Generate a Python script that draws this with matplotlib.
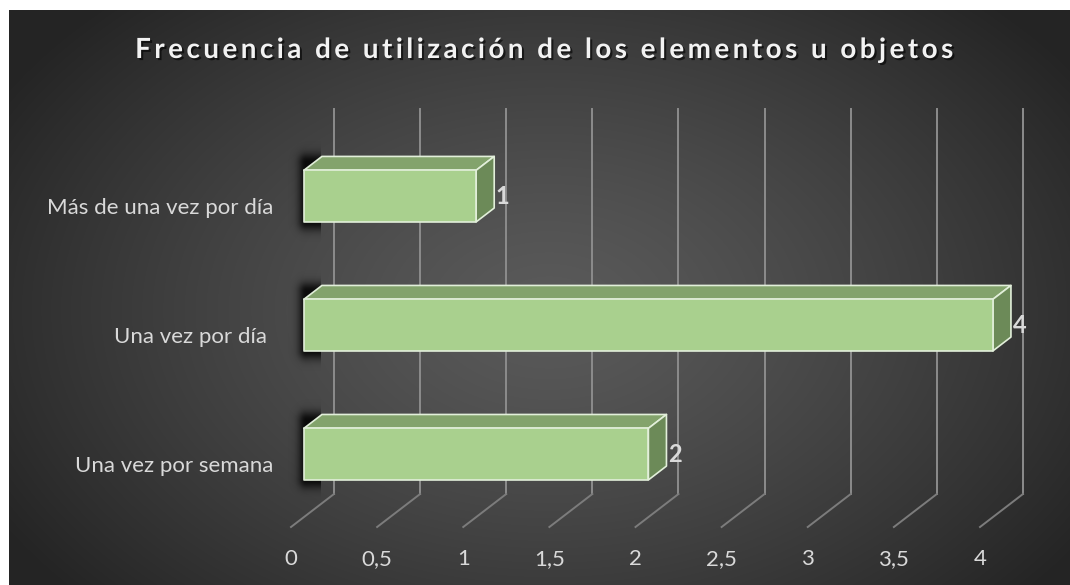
import numpy as np
import matplotlib
matplotlib.use("Agg")
import matplotlib.pyplot as plt
import matplotlib.patheffects as pe
from matplotlib.patches import Polygon

# --- datos ---
categorias = ["Una vez por semana", "Una vez por día ", "Más de una vez por día"]
valores = [2, 4, 1]
ticks_x = [0, 0.5, 1, 1.5, 2, 2.5, 3, 3.5, 4]
ticks_x_txt = ["0", "0,5", "1", "1,5", "2", "2,5", "3", "3,5", "4"]
titulo = "Frecuencia de utilización de los elementos u objetos"

FONT = ["Lato", "DejaVu Sans"]
plt.rcParams['font.family'] = FONT

W, H = 1070, 585
fig = plt.figure(figsize=(W / 100, H / 100), dpi=100)
fig.patch.set_facecolor("white")

# fondo con gradiente radial
bg = fig.add_axes([9 / W, 0, (W - 9) / W, (H - 10) / H])
yy, xx = np.mgrid[0:575, 0:1061]
r = np.sqrt(((xx - 540) / 640.0) ** 2 + ((yy - 300) / 430.0) ** 2)
t = np.clip(r, 0, 1) ** 1.3
c_in = np.array([0x5a, 0x5a, 0x5a]) / 255
c_out = np.array([0x24, 0x24, 0x24]) / 255
img = c_in[None, None, :] * (1 - t[..., None]) + c_out[None, None, :] * t[..., None]
bg.imshow(img, aspect="auto", interpolation="bilinear")
bg.axis("off")

# ejes principales (plano frontal del suelo)
y0, y1 = -0.488, 2.496
ax = fig.add_axes([291 / W, (H - 527) / H, 689 / W, 385 / H])
ax.patch.set_alpha(0)
for s in ax.spines.values():
    s.set_visible(False)

DX, DY = 0.2496, 0.2558   # profundidad completa en unidades de datos
def p(x, y, d):
    return (x + DX * d, y + DY * d)

# cuadrícula: pared de fondo y suelo
for xv in ticks_x:
    xs, ys = zip(p(xv, y0, 1), p(xv, y1, 1))
    ax.plot(xs, ys, color="#8c8c8c", lw=1.4, clip_on=False, zorder=1)
    xs, ys = zip(p(xv, y0, 0), p(xv, y0, 1))
    ax.plot(xs, ys, color="#7c7c7c", lw=1.4, clip_on=False, zorder=1)

# barras 3D
d0, d1 = 0.30, 0.72
h = 0.2
for i, v in enumerate(valores):
    # sombra difuminada a la izquierda
    sx0 = p(0, i, d0)[0]
    ny, nx = 120, 80
    gx = np.linspace(-0.16, 0.10, nx)
    gy = np.linspace(i - h - 0.25, i + h + 0.3, ny)
    GX, GY = np.meshgrid(gx, gy)
    dxs = np.maximum(0, -GX + 0.015) / 0.045
    dys = np.maximum(0, np.maximum((i - h + 0.0) - GY, GY - (i + h + 0.06))) / 0.07
    a = 0.85 * np.exp(-(dxs ** 2 + dys ** 2))
    sh = np.zeros((ny, nx, 4))
    sh[..., 3] = a
    ax.imshow(sh, extent=(sx0 + gx[0], sx0 + gx[-1], gy[0] + DY * d0, gy[-1] + DY * d0),
              origin="lower", aspect="auto", interpolation="bilinear", zorder=2, clip_on=False)

    front = [p(0, i - h, d0), p(v, i - h, d0), p(v, i + h, d0), p(0, i + h, d0)]
    top = [p(0, i + h, d0), p(v, i + h, d0), p(v, i + h, d1), p(0, i + h, d1)]
    side = [p(v, i - h, d0), p(v, i + h, d0), p(v, i + h, d1), p(v, i - h, d1)]
    for poly, col in [(top, "#83a36c"), (side, "#6c8a58"), (front, "#a9d08e")]:
        ax.add_patch(Polygon(poly, closed=True, facecolor=col, edgecolor="#e2efda",
                             lw=1.2, joinstyle="round", clip_on=False, zorder=3))
    lx = p(v, i, d1)[0]
    ax.text(lx + 0.01, i + DY * d0, str(v), ha="left", va="center", fontsize=17,
            fontweight="bold", color="#d9d9d9", zorder=4, clip_on=False)

ax.set_xlim(0, 4)
ax.set_ylim(y0, y1)

# etiquetas
ax.set_xticks(ticks_x, ticks_x_txt)
ax.set_yticks(range(len(categorias)), categorias)
ax.tick_params(axis="x", length=0, pad=16, labelsize=16, labelcolor="#d9d9d9")
ax.tick_params(axis="y", length=0, pad=13, labelsize=16, labelcolor="#d9d9d9")

# título con espaciado entre letras
tit = "\u2009".join(titulo)
fig.text(545 / W, 1 - 50 / H, tit, ha="center", va="center", fontsize=20,
         fontweight="bold", color="#f2f2f2",
         path_effects=[pe.withSimplePatchShadow(offset=(1.5, -1.5), shadow_rgbFace="black", alpha=0.6)])

fig.savefig("out.png", dpi=100)
